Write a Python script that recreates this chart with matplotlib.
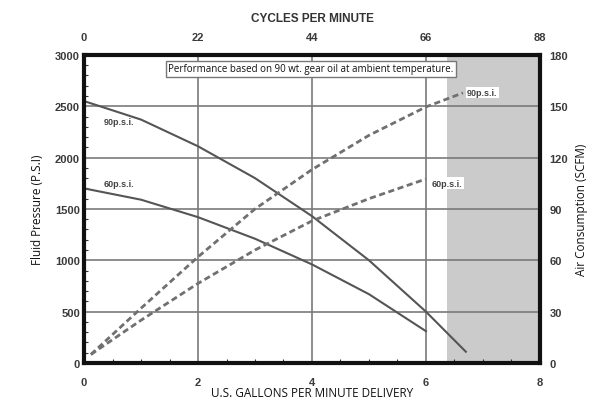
import matplotlib
matplotlib.use("Agg")
import matplotlib.pyplot as plt
from matplotlib.ticker import MultipleLocator

# fluid pressure (left axis, P.S.I.) vs U.S. gallons per minute
gpm_90 = [0, 1, 2, 3, 4, 5, 6, 6.7]
psi_90 = [2550, 2370, 2110, 1800, 1430, 1000, 500, 110]
gpm_60 = [0, 1, 2, 3, 4, 5, 6]
psi_60 = [1700, 1590, 1420, 1210, 960, 670, 310]

# air consumption (right axis, SCFM)
air_gpm_90 = [0.12, 1, 2, 3, 4, 5, 6, 6.65]
scfm_90 = [5, 32, 62, 90, 113, 133, 149.6, 157.8]
air_gpm_60 = [0.12, 1, 2, 3, 4, 5, 6]
scfm_60 = [5, 25, 46.5, 66, 83, 96, 107.5]

x_ticks = [0, 2, 4, 6, 8]
cycle_labels = ["0", "22", "44", "66", "88"]
psi_ticks = [0, 500, 1000, 1500, 2000, 2500, 3000]
scfm_ticks = [0, 30, 60, 90, 120, 150, 180]
shade_start = 6.37

tick_font = ["Liberation Sans", "DejaVu Sans"]
plt.rcParams["font.family"] = ["Open Sans", "DejaVu Sans"]

fig = plt.figure(figsize=(5.92, 4.02), dpi=100)
ax = fig.add_axes([0.142, 0.0945, 0.770, 0.7665])

ax.axvspan(shade_start, 8, color="#cbcbcb", zorder=0, lw=0)
ax.set_xlim(0, 8)
ax.set_ylim(0, 3000)
ax.set_xticks(x_ticks)
ax.set_yticks(psi_ticks)
ax.xaxis.set_minor_locator(MultipleLocator(0.5))
ax.yaxis.set_minor_locator(MultipleLocator(100))
ax.grid(True, which="major", color="#7a7a7a", lw=1.2, zorder=1)
ax.tick_params(which="both", direction="in", color="#333333")
ax.tick_params(which="major", length=0, labelsize=8, labelcolor="#3a3a3a")
ax.tick_params(axis="x", which="major", pad=10)
ax.tick_params(axis="y", which="major", pad=3)
ax.tick_params(which="minor", length=3, width=0.8)
for lab in ax.get_xticklabels() + ax.get_yticklabels():
    lab.set_family(tick_font)
    lab.set_weight("bold")
for s in ax.spines.values():
    s.set_linewidth(3)
    s.set_color("#111111")
    s.set_zorder(5)

ax.plot(gpm_90, psi_90, color="#555555", lw=1.5, zorder=3)
ax.plot(gpm_60, psi_60, color="#555555", lw=1.5, zorder=3)

ax2 = ax.twinx()
ax2.set_ylim(0, 180)
ax2.set_yticks(scfm_ticks)
ax2.tick_params(direction="in", length=0, pad=7, labelsize=8, labelcolor="#3a3a3a")
for lab in ax2.get_yticklabels():
    lab.set_family(tick_font)
    lab.set_weight("bold")
for s in ax2.spines.values():
    s.set_visible(False)
ax2.plot(air_gpm_90, scfm_90, color="#707070", lw=2, ls=(0, (2.2, 1.3)), zorder=3)
ax2.plot(air_gpm_60, scfm_60, color="#707070", lw=2, ls=(0, (2.2, 1.3)), zorder=3)

top = ax.secondary_xaxis("top")
top.set_xticks(x_ticks)
top.set_xticklabels(cycle_labels)
top.tick_params(length=0, pad=9, labelsize=8, labelcolor="#3a3a3a")
for lab in top.get_xticklabels():
    lab.set_family(tick_font)
    lab.set_weight("bold")
top.spines["top"].set_visible(False)
top.set_xlabel("CYCLES PER MINUTE", fontsize=8.5, fontweight="bold",
               family=tick_font, color="#333333", labelpad=8)

ax.set_xlabel("U.S. GALLONS PER MINUTE DELIVERY", fontsize=8.5, color="#111111", labelpad=-1)
ax.set_ylabel("Fluid Pressure (P.S.I)", fontsize=8.5, color="#111111", labelpad=8)
ax2.set_ylabel("Air Consumption (SCFM)", fontsize=8.5, color="#111111", labelpad=5)

ax.text(3.98, 2865, "Performance based on 90 wt. gear oil at ambient temperature.",
        ha="center", va="center", fontsize=7, color="#111111", zorder=6,
        bbox=dict(boxstyle="square,pad=0.25", fc="white", ec="#777777", lw=1))

lbl = dict(fontsize=6.5, fontweight="bold", family=tick_font, color="#444444", zorder=6)
ax.text(0.35, 2330, "90p.s.i.", **lbl)
ax.text(0.35, 1720, "60p.s.i.", **lbl)
box = dict(boxstyle="square,pad=0.15", fc="white", ec="none")
ax2.text(6.72, 158, "90p.s.i.", va="center", bbox=box, **lbl)
ax2.text(6.1, 105, "60p.s.i.", va="center", bbox=box, **lbl)

fig.savefig("out.png", dpi=100)
